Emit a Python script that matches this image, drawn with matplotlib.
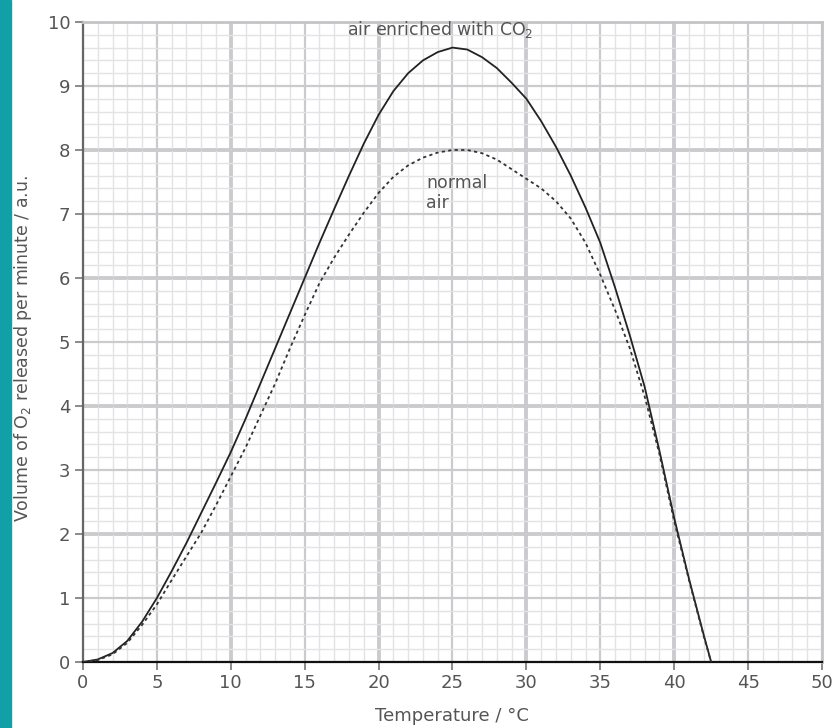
import matplotlib.pyplot as plt
import matplotlib.patches as patches
import numpy as np

plt.rcParams['font.family'] = ['DejaVu Sans']

# temperature / degC
temp = [0, 1, 2, 3, 4, 5, 6, 7, 8, 9, 10, 11, 12, 13, 14, 15, 16, 17, 18, 19, 20,
        21, 22, 23, 24, 25, 26, 27, 28, 29, 30, 31, 32, 33, 34, 35, 36, 37, 38, 39,
        40, 41, 42, 42.5]

# O2 released, air enriched with CO2 (solid)
co2_air = [0, 0.04, 0.14, 0.33, 0.63, 1.0, 1.42, 1.86, 2.33, 2.8, 3.28, 3.8, 4.35,
           4.9, 5.45, 6.0, 6.55, 7.08, 7.6, 8.1, 8.55, 8.92, 9.2, 9.4, 9.53, 9.6,
           9.57, 9.45, 9.28, 9.05, 8.8, 8.45, 8.05, 7.6, 7.1, 6.55, 5.85, 5.1, 4.3,
           3.3, 2.25, 1.3, 0.42, 0]

# O2 released, normal air (dashed)
normal_air = [0, 0.03, 0.12, 0.3, 0.58, 0.9, 1.28, 1.65, 2.02, 2.45, 2.9, 3.35, 3.85,
              4.35, 4.9, 5.42, 5.92, 6.32, 6.68, 7.02, 7.33, 7.58, 7.76, 7.88, 7.96, 8.0,
              8.0, 7.95, 7.85, 7.7, 7.55, 7.4, 7.2, 6.93, 6.55, 6.05, 5.5, 4.9, 4.15,
              3.25, 2.2, 1.28, 0.4, 0]

xticks = np.arange(0, 51, 5)
yticks = np.arange(0, 11, 1)

fig = plt.figure(figsize=(8.35, 7.28), dpi=100)
ax = fig.add_axes([83 / 835, 66 / 728, 739 / 835, 640 / 728])

# teal side bar
fig.patches.append(patches.Rectangle((0, 0), 11 / 835, 1, transform=fig.transFigure,
                                     color='#12a0a8', zorder=0))

ax.set_xlim(0, 50)
ax.set_ylim(0, 10)
ax.set_xticks(xticks)
ax.set_yticks(yticks)
ax.set_xticks(np.arange(0, 51, 1), minor=True)
ax.set_yticks(np.arange(0, 10.01, 0.2), minor=True)

# graph paper grid
ax.grid(which='minor', color='#e3e3e5', linewidth=1.0, zorder=0)
ax.grid(which='major', color='#cbcbcf', linewidth=1.6, zorder=0)
for xv in np.arange(10, 50, 10):
    ax.axvline(xv, color='#c4c4c8', linewidth=2.6, zorder=0.5)
for yv in np.arange(2, 10, 2):
    ax.axhline(yv, color='#c4c4c8', linewidth=2.6, zorder=0.5)
ax.set_axisbelow(True)

ax.plot(temp, co2_air, color='#222222', linewidth=1.3, zorder=3)
ax.plot(temp, normal_air, color='#333333', linewidth=1.3, linestyle=(0, (1.8, 1.8)), zorder=3)

ax.text(24.2, 9.88, 'air enriched with CO$_2$', ha='center', va='center',
        fontsize=12.5, color='#555555')
ax.text(23.2, 7.48, 'normal', ha='left', va='center', fontsize=12.5, color='#555555')
ax.text(23.2, 7.17, 'air', ha='left', va='center', fontsize=12.5, color='#555555')

for s in ['top', 'right']:
    ax.spines[s].set_color('#c4c4c8')
    ax.spines[s].set_linewidth(2.0)
ax.spines['left'].set_color('#666666')
ax.spines['left'].set_linewidth(1.6)
ax.spines['bottom'].set_color('#111111')
ax.spines['bottom'].set_linewidth(1.6)

ax.tick_params(which='major', direction='out', length=6, width=1.2, color='#777777',
               labelsize=13, labelcolor='#555555', pad=3)
ax.tick_params(which='minor', length=0)

fig.text(23 / 835, (728 - 348) / 728, 'Volume of O$_2$ released per minute / a.u.',
         rotation=90, ha='center', va='center', fontsize=12.5, color='#555555')
fig.text(452 / 835, 12 / 728, 'Temperature / \u00b0C', ha='center', va='center',
         fontsize=13, color='#555555')

fig.savefig('out.png', dpi=100)
